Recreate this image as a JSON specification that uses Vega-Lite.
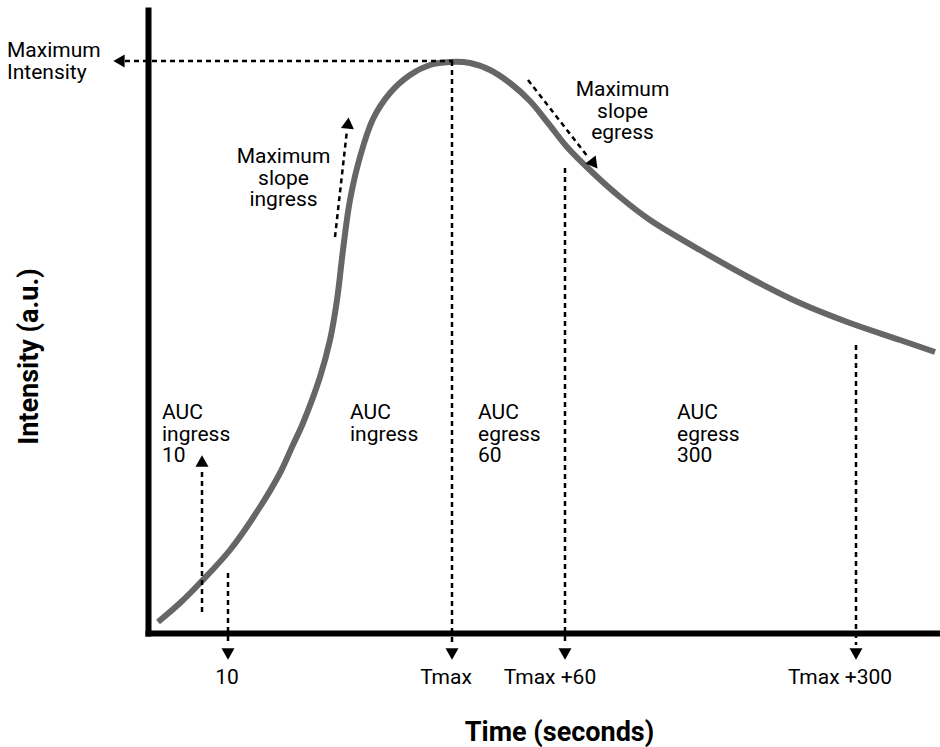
{
  "$schema": "https://vega.github.io/schema/vega-lite/v6.json",
  "width": 792,
  "height": 623,
  "autosize": {"type": "none"},
  "padding": {"left": 148, "top": 10, "right": 0, "bottom": 114},
  "background": "white",
  "config": {"view": {"stroke": null}, "font": "Roboto"},
  "datasets": {
    "curve": [
      {"t": 10, "I": 11}, {"t": 32, "I": 30}, {"t": 52, "I": 50}, {"t": 82, "I": 83},
      {"t": 112, "I": 126}, {"t": 132, "I": 160}, {"t": 144, "I": 186}, {"t": 155, "I": 210},
      {"t": 172, "I": 256}, {"t": 182, "I": 293}, {"t": 189, "I": 333}, {"t": 195, "I": 383},
      {"t": 202, "I": 433}, {"t": 212, "I": 476}, {"t": 225, "I": 514}, {"t": 242, "I": 540},
      {"t": 262, "I": 558}, {"t": 282, "I": 568}, {"t": 302, "I": 571}, {"t": 322, "I": 570},
      {"t": 342, "I": 563}, {"t": 362, "I": 550}, {"t": 382, "I": 532}, {"t": 400, "I": 510},
      {"t": 419, "I": 486}, {"t": 445, "I": 460}, {"t": 472, "I": 436}, {"t": 502, "I": 413},
      {"t": 552, "I": 383}, {"t": 602, "I": 355}, {"t": 652, "I": 330}, {"t": 702, "I": 310},
      {"t": 752, "I": 293}, {"t": 787, "I": 281}
    ],
    "rules": [
      {"name": "max", "t": -23, "I": 572, "t2": 305, "I2": 572},
      {"name": "tmax", "t": 304, "I": 572, "t2": 304, "I2": -12},
      {"name": "t10", "t": 80, "I": 60, "t2": 80, "I2": -12},
      {"name": "t60", "t": 417, "I": 465, "t2": 417, "I2": -12},
      {"name": "t300", "t": 708, "I": 288, "t2": 708, "I2": -12},
      {"name": "auc10", "t": 54, "I": 21, "t2": 54, "I2": 165},
      {"name": "slopeIn", "t": 187, "I": 396, "t2": 199, "I2": 503},
      {"name": "slopeEg", "t": 380, "I": 553, "t2": 440, "I2": 476}
    ],
    "headsDown": [
      {"t": 80, "I": -21}, {"t": 304, "I": -21}, {"t": 417, "I": -21}, {"t": 708, "I": -21}
    ],
    "headsUp": [{"t": 54, "I": 172}],
    "headsLeft": [{"t": -29, "I": 572}],
    "headIn": [{"t": 200, "I": 510}],
    "headEg": [{"t": 446, "I": 469}],
    "textsLeft": [
      {"t": -141, "I": 576, "label": "Maximum\nIntensity"},
      {"t": 14, "I": 214, "label": "AUC\ningress\n10"},
      {"t": 202, "I": 214, "label": "AUC\ningress"},
      {"t": 330, "I": 214, "label": "AUC\negress\n60"},
      {"t": 529, "I": 214, "label": "AUC\negress\n300"}
    ],
    "textsCenter": [
      {"t": 135.5, "I": 470, "label": "Maximum\nslope\ningress"},
      {"t": 474.5, "I": 537, "label": "Maximum\nslope\negress"},
      {"t": 79, "I": -51, "label": "10"},
      {"t": 298, "I": -51, "label": "Tmax"},
      {"t": 402, "I": -51, "label": "Tmax +60"},
      {"t": 692, "I": -51, "label": "Tmax +300"}
    ]
  },
  "layer": [
    {
      "data": {"name": "curve"},
      "mark": {"type": "line", "interpolate": "catmull-rom", "stroke": "#666666", "strokeWidth": 6},
      "encoding": {
        "x": {"field": "t", "type": "quantitative", "scale": {"domain": [0, 792], "nice": false, "zero": false},
          "axis": {"domain": true, "domainColor": "black", "domainWidth": 6, "domainCap": "square", "ticks": false, "labels": false, "grid": false,
            "title": "Time (seconds)", "titleFont": "Roboto", "titleFontSize": 27, "titleFontWeight": "bold", "titleColor": "black",
            "titleX": 411, "titleY": 107, "titleBaseline": "alphabetic", "titleAlign": "center"}},
        "y": {"field": "I", "type": "quantitative", "scale": {"domain": [0, 623], "nice": false, "zero": false},
          "axis": {"domain": true, "domainColor": "black", "domainWidth": 6, "domainCap": "square", "ticks": false, "labels": false, "grid": false,
            "title": "Intensity (a.u.)", "titleFont": "Roboto", "titleFontSize": 27, "titleFontWeight": "bold", "titleColor": "black",
            "titleX": -111, "titleY": 346, "titleAngle": 270, "titleBaseline": "alphabetic", "titleAlign": "center"}}
      }
    },
    {
      "data": {"name": "rules"},
      "mark": {"type": "rule", "stroke": "black", "strokeWidth": 2.5, "strokeDash": [5, 4]},
      "encoding": {
        "x": {"field": "t", "type": "quantitative"},
        "y": {"field": "I", "type": "quantitative"},
        "x2": {"field": "t2"},
        "y2": {"field": "I2"}
      }
    },
    {
      "data": {"name": "headsDown"},
      "mark": {"type": "point", "shape": "triangle-down", "filled": true, "fill": "black", "opacity": 1, "size": 170, "strokeWidth": 0},
      "encoding": {"x": {"field": "t", "type": "quantitative"}, "y": {"field": "I", "type": "quantitative"}}
    },
    {
      "data": {"name": "headsUp"},
      "mark": {"type": "point", "shape": "triangle-up", "filled": true, "fill": "black", "opacity": 1, "size": 170, "strokeWidth": 0},
      "encoding": {"x": {"field": "t", "type": "quantitative"}, "y": {"field": "I", "type": "quantitative"}}
    },
    {
      "data": {"name": "headsLeft"},
      "mark": {"type": "point", "shape": "triangle-left", "filled": true, "fill": "black", "opacity": 1, "size": 170, "strokeWidth": 0},
      "encoding": {"x": {"field": "t", "type": "quantitative"}, "y": {"field": "I", "type": "quantitative"}}
    },
    {
      "data": {"name": "headIn"},
      "mark": {"type": "point", "shape": "triangle-up", "angle": 6, "filled": true, "fill": "black", "opacity": 1, "size": 170, "strokeWidth": 0},
      "encoding": {"x": {"field": "t", "type": "quantitative"}, "y": {"field": "I", "type": "quantitative"}}
    },
    {
      "data": {"name": "headEg"},
      "mark": {"type": "point", "shape": "triangle-down", "angle": -38, "filled": true, "fill": "black", "opacity": 1, "size": 170, "strokeWidth": 0},
      "encoding": {"x": {"field": "t", "type": "quantitative"}, "y": {"field": "I", "type": "quantitative"}}
    },
    {
      "data": {"name": "textsLeft"},
      "mark": {"type": "text", "align": "left", "baseline": "alphabetic", "font": "Roboto", "fontSize": 21, "lineHeight": 21.5, "lineBreak": "\n", "color": "black"},
      "encoding": {"x": {"field": "t", "type": "quantitative"}, "y": {"field": "I", "type": "quantitative"}, "text": {"field": "label"}}
    },
    {
      "data": {"name": "textsCenter"},
      "mark": {"type": "text", "align": "center", "baseline": "alphabetic", "font": "Roboto", "fontSize": 21, "lineHeight": 21.5, "lineBreak": "\n", "color": "black"},
      "encoding": {"x": {"field": "t", "type": "quantitative"}, "y": {"field": "I", "type": "quantitative"}, "text": {"field": "label"}}
    }
  ]
}
